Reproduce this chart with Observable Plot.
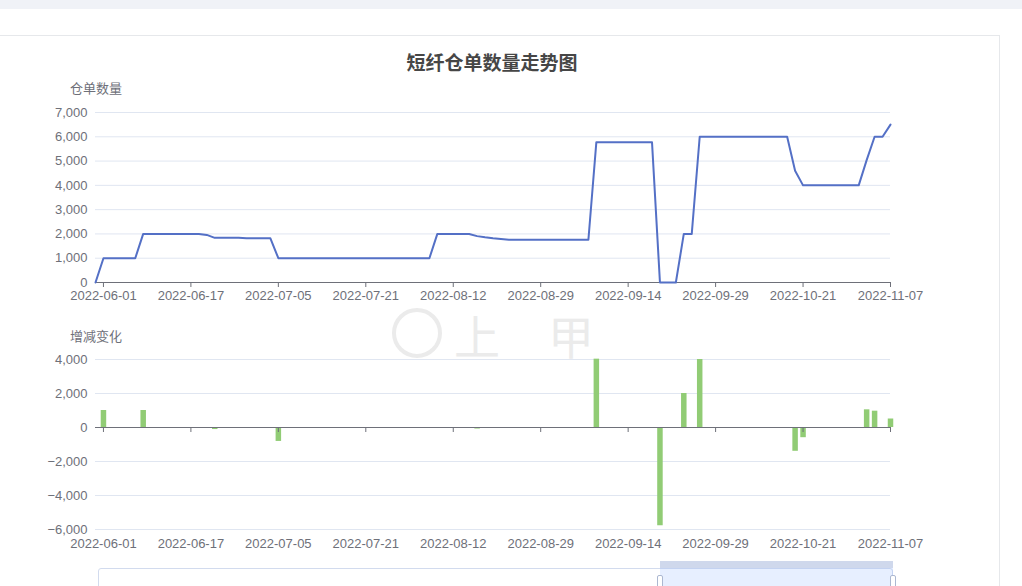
<!DOCTYPE html>
<html>
<head>
<meta charset="utf-8">
<script src="https://cdn.jsdelivr.net/npm/d3@7"></script>
<script src="https://cdn.jsdelivr.net/npm/@observablehq/plot@0.6"></script>
<style>
  body { margin:0; width:1022px; height:586px; overflow:hidden; background:#fff; position:relative;
         font-family:"Liberation Sans","Noto Sans CJK SC",sans-serif; }
  .band { position:absolute; left:0; top:0; width:1022px; height:9px; background:#f0f2f7; }
  .card { position:absolute; left:-20px; top:35px; width:1020px; height:600px; border:1px solid #e6e8eb; box-sizing:border-box; }
  .title { position:absolute; left:0; top:49px; width:984px; text-align:center; font-size:19px; font-weight:bold;
           color:#464646; font-family:"Noto Sans CJK SC",sans-serif; line-height:26px; }
  .axname { position:absolute; width:80px; margin-left:-40px; text-align:center; font-size:13px; color:#6e7079;
            font-family:"Noto Sans CJK SC",sans-serif; line-height:18px; }
  .chart { position:absolute; left:0; }
  .wm { position:absolute; color:#ebebeb; font-family:"Noto Sans CJK SC",sans-serif; }
  .slider { position:absolute; left:98px; top:568px; width:795px; height:30px; border:1px solid #d2dbee; border-radius:3px; box-sizing:border-box; }
  .filler { position:absolute; top:568px; height:30px; background:rgba(135,175,255,0.2); }
  .move { position:absolute; top:561px; height:7px; background:#cfd8ec; }
  .handle { position:absolute; top:575px; width:4px; height:20px; background:#fff; border:1px solid #acb8d1; border-radius:2px; }
</style>
</head>
<body>
<div class="band"></div>
<div class="card"></div>
<div class="title">短纤仓单数量走势图</div>
<div class="wm" style="left:392px;top:308px;width:42px;height:42px;border:4px solid #ebebeb;border-radius:50%;"></div>
<div class="wm" style="left:454px;top:312px;font-size:46px;line-height:44px;letter-spacing:48px;">上甲</div>
<div class="axname" style="left:96px;top:79px;">仓单数量</div>
<div class="axname" style="left:96px;top:327px;">增减变化</div>
<div id="top" class="chart" style="top:100px;"></div>
<div id="bottom" class="chart" style="top:345px;"></div>
<div class="slider"></div>
<div id="slider"></div>
<script>
// 仓单数量 per trading day (category index 0..100)
const counts = [
  0, 1000, 1000, 1000, 1000, 1000, 2000, 2000, 2000, 2000,
  2000, 2000, 2000, 2000, 1960, 1840, 1840, 1840, 1840, 1820,
  1820, 1820, 1820, 1000, 1000, 1000, 1000, 1000, 1000, 1000,
  1000, 1000, 1000, 1000, 1000, 1000, 1000, 1000, 1000, 1000,
  1000, 1000, 1000, 2000, 2000, 2000, 2000, 2000, 1910, 1860,
  1820, 1790, 1760, 1760, 1760, 1760, 1760, 1760, 1760, 1760,
  1760, 1760, 1760, 5780, 5780, 5780, 5780, 5780, 5780, 5780,
  5780, 0, 0, 0, 2000, 2000, 6000, 6000, 6000, 6000,
  6000, 6000, 6000, 6000, 6000, 6000, 6000, 6000, 4600, 4000,
  4000, 4000, 4000, 4000, 4000, 4000, 4000, 5040, 6000, 6000,
  6500
];
// 增减变化 (non-zero days only)
const changeIdx = [1, 6, 14, 15, 19, 23, 48, 49, 50, 51, 52, 63, 71, 74, 76, 88, 89, 97, 98, 100];
const changeVal = [1000, 1000, -40, -120, -20, -820, -90, -50, -40, -30, -30, 4020, -5780, 2000, 4000, -1400, -600, 1040, 960, 500];
// x-axis category labels
const tickIdx = [1, 12, 23, 34, 45, 56, 67, 78, 89, 100];
const tickLabels = ["2022-06-01","2022-06-17","2022-07-05","2022-07-21","2022-08-12","2022-08-29","2022-09-14","2022-09-29","2022-10-21","2022-11-07"];
const yTicksTop = [0, 1000, 2000, 3000, 4000, 5000, 6000, 7000];
const yTicksBottom = [-6000, -4000, -2000, 0, 2000, 4000];
// dataZoom window (percent)
const zoomStart = 70.7, zoomEnd = 100;

const lineData = counts.map((v, i) => ({i, v}));
const barData = changeIdx.map((i, k) => ({i, v: changeVal[k]}));
const fmt = d3.format(",");
const lab = i => tickLabels[tickIdx.indexOf(i)];
const style = {fontSize:"13px", fontFamily:'"Liberation Sans","Noto Sans CJK SC",sans-serif', color:"#6e7079", background:"transparent", overflow:"visible"};

const topChart = Plot.plot({
  width: 1000, height: 210,
  marginLeft: 95, marginRight: 110, marginTop: 12, marginBottom: 28,
  style,
  x: {domain: [0, 100]},
  y: {domain: [0, 7000]},
  marks: [
    Plot.ruleY(yTicksTop, {stroke: "#e0e6f1"}),
    Plot.axisY({ticks: yTicksTop, tickSize: 0, tickPadding: 8, tickFormat: fmt, label: null}),
    Plot.axisX({ticks: tickIdx, tickSize: 5, tickPadding: 3, tickFormat: lab, label: null}),
    Plot.ruleY([0], {stroke: "#6e7079"}),
    Plot.line(lineData, {x: "i", y: "v", stroke: "#5470c6", strokeWidth: 2})
  ]
});
document.getElementById("top").append(topChart);

const bottomChart = Plot.plot({
  width: 1000, height: 212,
  marginLeft: 95, marginRight: 110, marginTop: 14, marginBottom: 28,
  style,
  x: {domain: [0, 100]},
  y: {domain: [-6000, 4000]},
  marks: [
    Plot.ruleY(yTicksBottom, {stroke: "#e0e6f1"}),
    Plot.axisY({ticks: yTicksBottom, tickSize: 0, tickPadding: 8, tickFormat: fmt, label: null}),
    Plot.axisX({ticks: tickIdx, tickSize: 0, tickPadding: 9, tickFormat: lab, label: null}),
    Plot.ruleX(barData, {x: "i", y1: 0, y2: "v", stroke: "#91cc75", strokeWidth: 5.5}),
    Plot.ruleY([0], {stroke: "#6e7079"}),
    Plot.ruleX(tickIdx, {x: d => d, y1: 0, y2: 0, insetBottom: -5, stroke: "#6e7079"})
  ]
});
document.getElementById("bottom").append(bottomChart);

// dataZoom slider window
const sx = d3.scaleLinear().domain([0, 100]).range([98, 893]);
const sl = document.getElementById("slider");
const x0 = sx(zoomStart), x1 = sx(zoomEnd);
sl.innerHTML =
  `<div class="filler" style="left:${x0}px;width:${x1 - x0}px"></div>` +
  `<div class="move" style="left:${x0}px;width:${x1 - x0}px"></div>` +
  `<div class="handle" style="left:${x0 - 3}px"></div>` +
  `<div class="handle" style="left:${x1 - 3}px"></div>`;
</script>
</body>
</html>
